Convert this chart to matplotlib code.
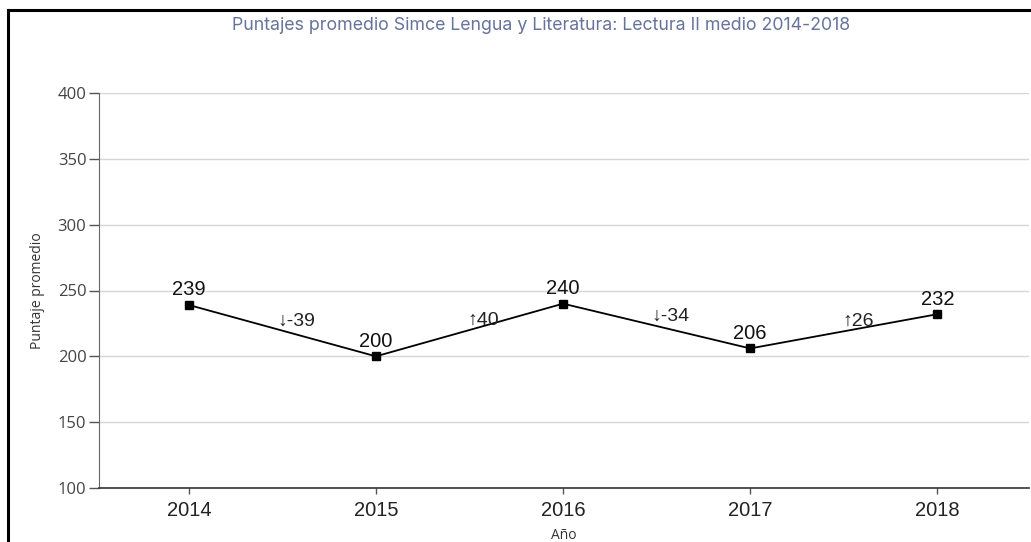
import matplotlib
matplotlib.use("Agg")
import matplotlib.pyplot as plt
from matplotlib.lines import Line2D

years = ["2014", "2015", "2016", "2017", "2018"]
scores = [239, 200, 240, 206, 232]
changes = ["↓-39", "↑40", "↓-34", "↑26"]
yticks = [100, 150, 200, 250, 300, 350, 400]

W, H = 1031, 542
fig = plt.figure(figsize=(W / 100, H / 100), dpi=100)
ax = fig.add_axes([99 / W, 1 - 488 / H, (1029 - 99) / W, (488 - 93) / H])

x = list(range(len(years)))
ax.plot(x, scores, color="black", lw=1.3, marker="s", markersize=5.5, zorder=3)

num_font = ["Liberation Sans", "DejaVu Sans"]
for xi, s in zip(x, scores):
    ax.annotate(str(s), (xi, s), xytext=(0, 4), textcoords="offset points",
                ha="center", va="bottom", fontsize=14.5, family=num_font, color="#111111")

for i, c in enumerate(changes):
    mx = (x[i] + x[i + 1]) / 2
    my = (scores[i] + scores[i + 1]) / 2
    ax.annotate(c, (mx, my), xytext=(10, 1), textcoords="offset points",
                ha="center", va="bottom", fontsize=14, family=num_font, color="#222222")

ax.set_xlim(-0.48, 4.49)
ax.set_ylim(100, 400)
ax.set_yticks(yticks)
ax.set_xticks(x)
ax.set_xticklabels(years, fontsize=14.5, family=num_font, color="#222222")
ax.set_yticklabels([str(v) for v in yticks], fontsize=12, family="Open Sans", color="#444444")
ax.tick_params(axis="y", length=7, width=1, color="#555555", pad=2)
ax.tick_params(axis="x", length=4, width=1, color="#555555", pad=5)
ax.grid(axis="y", color="#d6d6d6", lw=1)
ax.set_axisbelow(True)
for side in ["top", "right"]:
    ax.spines[side].set_visible(False)
ax.spines["left"].set_color("#666666")
ax.spines["bottom"].set_color("#333333")
ax.spines["bottom"].set_linewidth(1.2)

ax.set_ylabel("Puntaje promedio", fontsize=10, family="Open Sans", color="#333333", labelpad=9)
ax.set_xlabel("Año", fontsize=10, family="Open Sans", color="#333333", labelpad=6)

fig.text(541 / W, 1 - 26 / H, "Puntajes promedio Simce Lengua y Literatura: Lectura II medio 2014-2018",
         ha="center", va="center", fontsize=12.8, family="Inter", color="#66739c")

# outer frame (top and left)
fig.add_artist(Line2D([7.5 / W, 1], [1 - 10 / H, 1 - 10 / H], color="black", lw=2.2, transform=fig.transFigure))
fig.add_artist(Line2D([7.5 / W, 7.5 / W], [0, 1 - 10 / H], color="black", lw=2.2, transform=fig.transFigure))

fig.savefig("out.png", dpi=100)
